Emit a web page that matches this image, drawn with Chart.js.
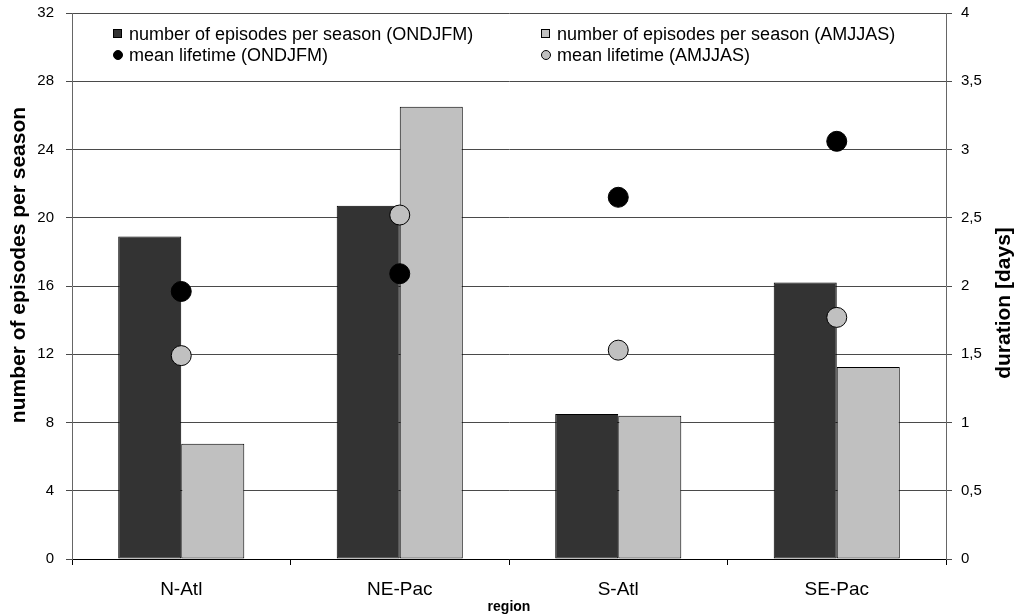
<!DOCTYPE html>
<html>
<head>
<meta charset="utf-8">
<script src="https://cdn.jsdelivr.net/npm/chart.js@4"></script>
<style>
  html, body { margin: 0; padding: 0; background: #fff; }
  #wrap { width: 1014px; height: 614px; position: relative; }
</style>
</head>
<body>
<div id="wrap"><canvas id="regionChart"></canvas></div>
<script>
// data
const regions = ['N-Atl', 'NE-Pac', 'S-Atl', 'SE-Pac'];
const episodesONDJFM = [18.9, 20.7, 8.5, 16.2];
const episodesAMJJAS = [6.75, 26.5, 8.4, 11.25];
const lifetimeONDJFM = [1.96, 2.09, 2.65, 3.06];
const lifetimeAMJJAS = [1.49, 2.52, 1.53, 1.77];
const episodeTicks = [0, 4, 8, 12, 16, 20, 24, 28, 32];
const durationTicks = [0, 0.5, 1, 1.5, 2, 2.5, 3, 3.5, 4];

const FONT = '"Liberation Sans", Arial, Helvetica, sans-serif';

// legend drawn inside the plot, two columns
const insideLegend = {
    id: 'insideLegend',
    afterDraw(chart) {
        const ctx = chart.ctx;
        const cols = [113, 541];
        const rows = [34, 55];
        ctx.save();
        ctx.font = '18px ' + FONT;
        ctx.textBaseline = 'middle';
        ctx.textAlign = 'left';
        chart.data.datasets.forEach((ds, k) => {
            const x = cols[k % 2];
            const y = rows[Math.floor(k / 2)];
            ctx.fillStyle = ds.backgroundColor;
            ctx.strokeStyle = '#000';
            ctx.lineWidth = 1;
            if (ds.type === 'bar') {
                ctx.fillRect(x, y - 5, 9, 9);
                ctx.strokeRect(x + 0.5, y - 4.5, 8, 8);
            } else {
                ctx.beginPath();
                ctx.arc(x + 5, y, 4.5, 0, Math.PI * 2);
                ctx.fill();
                ctx.stroke();
            }
            ctx.fillStyle = '#000';
            ctx.fillText(ds.label, x + 16, y + 1);
        });
        ctx.restore();
    }
};

// both value-axis titles read bottom-to-top, as in the original
const axisTitles = {
    id: 'axisTitles',
    afterDraw(chart) {
        const ctx = chart.ctx;
        const place = [['y', 19.5, 265], ['y1', 1004, 303]];
        ctx.save();
        ctx.font = 'bold 21px ' + FONT;
        ctx.fillStyle = '#000';
        ctx.textAlign = 'center';
        ctx.textBaseline = 'middle';
        place.forEach(([id, x, y]) => {
            const text = chart.scales[id].options.title.text;
            ctx.save();
            ctx.translate(x, y);
            ctx.rotate(-Math.PI / 2);
            ctx.fillText(text, 0, 0);
            ctx.restore();
        });
        ctx.restore();
    }
};

// fixed axis widths, no extra label padding at the ends
function fixVertical(width) {
    return function (scale) {
        scale.width = width;
        scale.paddingTop = 0;
        scale.paddingBottom = 0;
    };
}

const ctx = document.getElementById('regionChart').getContext('2d');
new Chart(ctx, {
    data: {
        labels: regions,
        datasets: [{
            type: 'bar',
            label: 'number of episodes per season (ONDJFM)',
            data: episodesONDJFM,
            backgroundColor: '#333333',
            borderColor: '#000',
            borderWidth: 1,
            borderSkipped: false,
            yAxisID: 'y',
            order: 2
        }, {
            type: 'bar',
            label: 'number of episodes per season (AMJJAS)',
            data: episodesAMJJAS,
            backgroundColor: '#c0c0c0',
            borderColor: '#000',
            borderWidth: 1,
            borderSkipped: false,
            yAxisID: 'y',
            order: 2
        }, {
            type: 'line',
            label: 'mean lifetime (ONDJFM)',
            data: lifetimeONDJFM,
            showLine: false,
            backgroundColor: '#000000',
            borderColor: '#000',
            pointRadius: 10,
            pointBorderWidth: 1,
            yAxisID: 'y1',
            order: 1
        }, {
            type: 'line',
            label: 'mean lifetime (AMJJAS)',
            data: lifetimeAMJJAS,
            showLine: false,
            backgroundColor: '#c0c0c0',
            borderColor: '#000',
            pointRadius: 10,
            pointBorderWidth: 1,
            yAxisID: 'y1',
            order: 1
        }]
    },
    options: {
        responsive: true,
        maintainAspectRatio: false,
        animation: false,
        layout: { padding: { top: 13, left: 0, right: 0, bottom: 0 } },
        datasets: {
            bar: { barPercentage: 1, categoryPercentage: 0.577 }
        },
        plugins: {
            legend: { display: false },
            tooltip: { enabled: false }
        },
        scales: {
            x: {
                type: 'category',
                offset: true,
                grid: {
                    offset: true,
                    drawOnChartArea: false,
                    tickLength: 6,
                    color: '#000'
                },
                border: { display: true, color: '#000' },
                ticks: {
                    color: '#000',
                    padding: 13,
                    font: { family: FONT, size: 19 }
                },
                title: {
                    display: true,
                    text: 'region',
                    color: '#000',
                    padding: 0,
                    font: { family: FONT, size: 14, weight: 'bold', lineHeight: 1 }
                },
                afterFit(scale) { scale.height = 55; }
            },
            y: {
                position: 'left',
                min: 0,
                max: 32,
                afterBuildTicks(scale) {
                    scale.ticks = episodeTicks.map(v => ({ value: v }));
                },
                grid: {
                    color: '#4a4a4a',
                    tickLength: 6
                },
                border: { display: true, color: '#666' },
                ticks: {
                    color: '#000',
                    padding: 12,
                    font: { family: FONT, size: 15 }
                },
                title: {
                    display: false,
                    text: 'number of episodes per season'
                },
                afterFit: fixVertical(72)
            },
            y1: {
                position: 'right',
                min: 0,
                max: 4,
                afterBuildTicks(scale) {
                    scale.ticks = durationTicks.map(v => ({ value: v }));
                },
                grid: {
                    drawOnChartArea: false,
                    color: '#4a4a4a',
                    tickLength: 6
                },
                border: { display: true, color: '#666' },
                ticks: {
                    color: '#000',
                    padding: 9,
                    font: { family: FONT, size: 15 },
                    callback: v => String(v).replace('.', ',')
                },
                title: {
                    display: false,
                    text: 'duration [days]'
                },
                afterFit: fixVertical(68)
            }
        }
    },
    plugins: [insideLegend, axisTitles]
});
</script>
</body>
</html>
